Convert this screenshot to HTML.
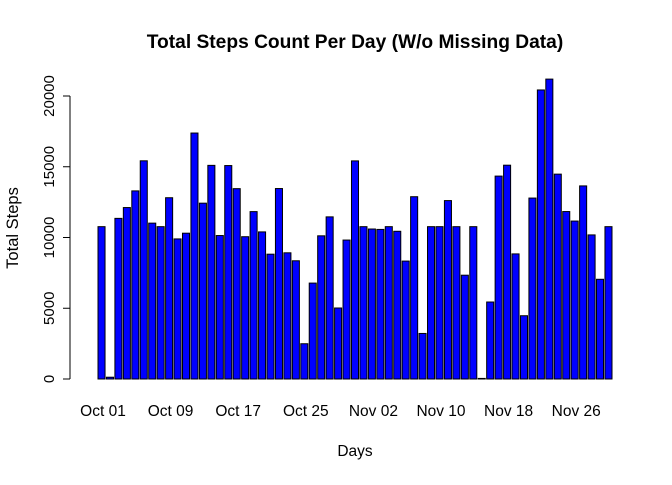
<!DOCTYPE html>
<html><head><meta charset="utf-8"><style>body{margin:0;background:#fff}svg text{font-family:"Liberation Sans",Arial,sans-serif}</style></head>
<body>
<svg id="c" width="672" height="480" xmlns="http://www.w3.org/2000/svg">
<text x="355" y="48" text-anchor="middle" font-size="19.2" font-weight="bold">Total Steps Count Per Day (W/o Missing Data)</text>
<text x="355" y="456" text-anchor="middle" font-size="15.5">Days</text>
<text x="18" y="228" text-anchor="middle" font-size="16.5" transform="rotate(-90 18 228)">Total Steps</text>
<g id="bars"></g>
<g id="yaxis"></g>
<g id="xaxis"></g>
</svg>
<script>
const steps=[10766,126,11352,12116,13294,15420,11015,10766,12811,9900,10304,17382,12426,15098,10139,15084,13452,10056,11829,10395,8821,13460,8918,8355,2492,6778,10119,11458,5018,9819,15414,10766,10600,10571,10766,10439,8334,12883,3219,10766,10766,12608,10765,7336,10766,41,5441,14339,15110,8841,4472,12787,20427,21194,14478,11834,11162,13646,10183,7047,10766];
const yTicks=[0,5000,10000,15000,20000];
const xLabels=["Oct 01","Oct 09","Oct 17","Oct 25","Nov 02","Nov 10","Nov 18","Nov 26"];
const NS="http://www.w3.org/2000/svg";
const y0=379,yTop=96;
function ys(v){return y0-(v/20000)*(y0-yTop);}
const left=98,right=612,pitch=(right-left)/(steps.length-1+1/1.2),bw=pitch/1.2;
function xs(i){return left+i*pitch;}
const bars=document.getElementById('bars');
steps.forEach((v,i)=>{const r=document.createElementNS(NS,'rect');


r.setAttribute('x',xs(i));r.setAttribute('y',ys(v));r.setAttribute('width',bw);r.setAttribute('height',y0-ys(v));
r.setAttribute('fill','#0000ff');r.setAttribute('stroke','#000');r.setAttribute('stroke-width','1');bars.appendChild(r);});
const ya=document.getElementById('yaxis');
let l=document.createElementNS(NS,'line');


l.setAttribute('x1',70);l.setAttribute('x2',70);l.setAttribute('y1',ys(0));l.setAttribute('y2',ys(20000));l.setAttribute('stroke','#000');ya.appendChild(l);
yTicks.forEach(t=>{const k=document.createElementNS(NS,'line');


k.setAttribute('x1',63);k.setAttribute('x2',70);k.setAttribute('y1',ys(t));k.setAttribute('y2',ys(t));k.setAttribute('stroke','#000');ya.appendChild(k);
const tx=document.createElementNS(NS,'text');


tx.setAttribute('x',54);tx.setAttribute('y',ys(t));tx.setAttribute('font-size','15');tx.setAttribute('text-anchor','middle');
tx.setAttribute('transform','rotate(-90 54 '+ys(t)+')');tx.textContent=t;ya.appendChild(tx);});
const xa=document.getElementById('xaxis');
xLabels.forEach((s,i)=>{const tx=document.createElementNS(NS,'text');


tx.setAttribute('x',103+i*67.6);tx.setAttribute('y',416);tx.setAttribute('font-size','15.5');tx.setAttribute('text-anchor','middle');tx.textContent=s;xa.appendChild(tx);});
</script>
</body></html>
